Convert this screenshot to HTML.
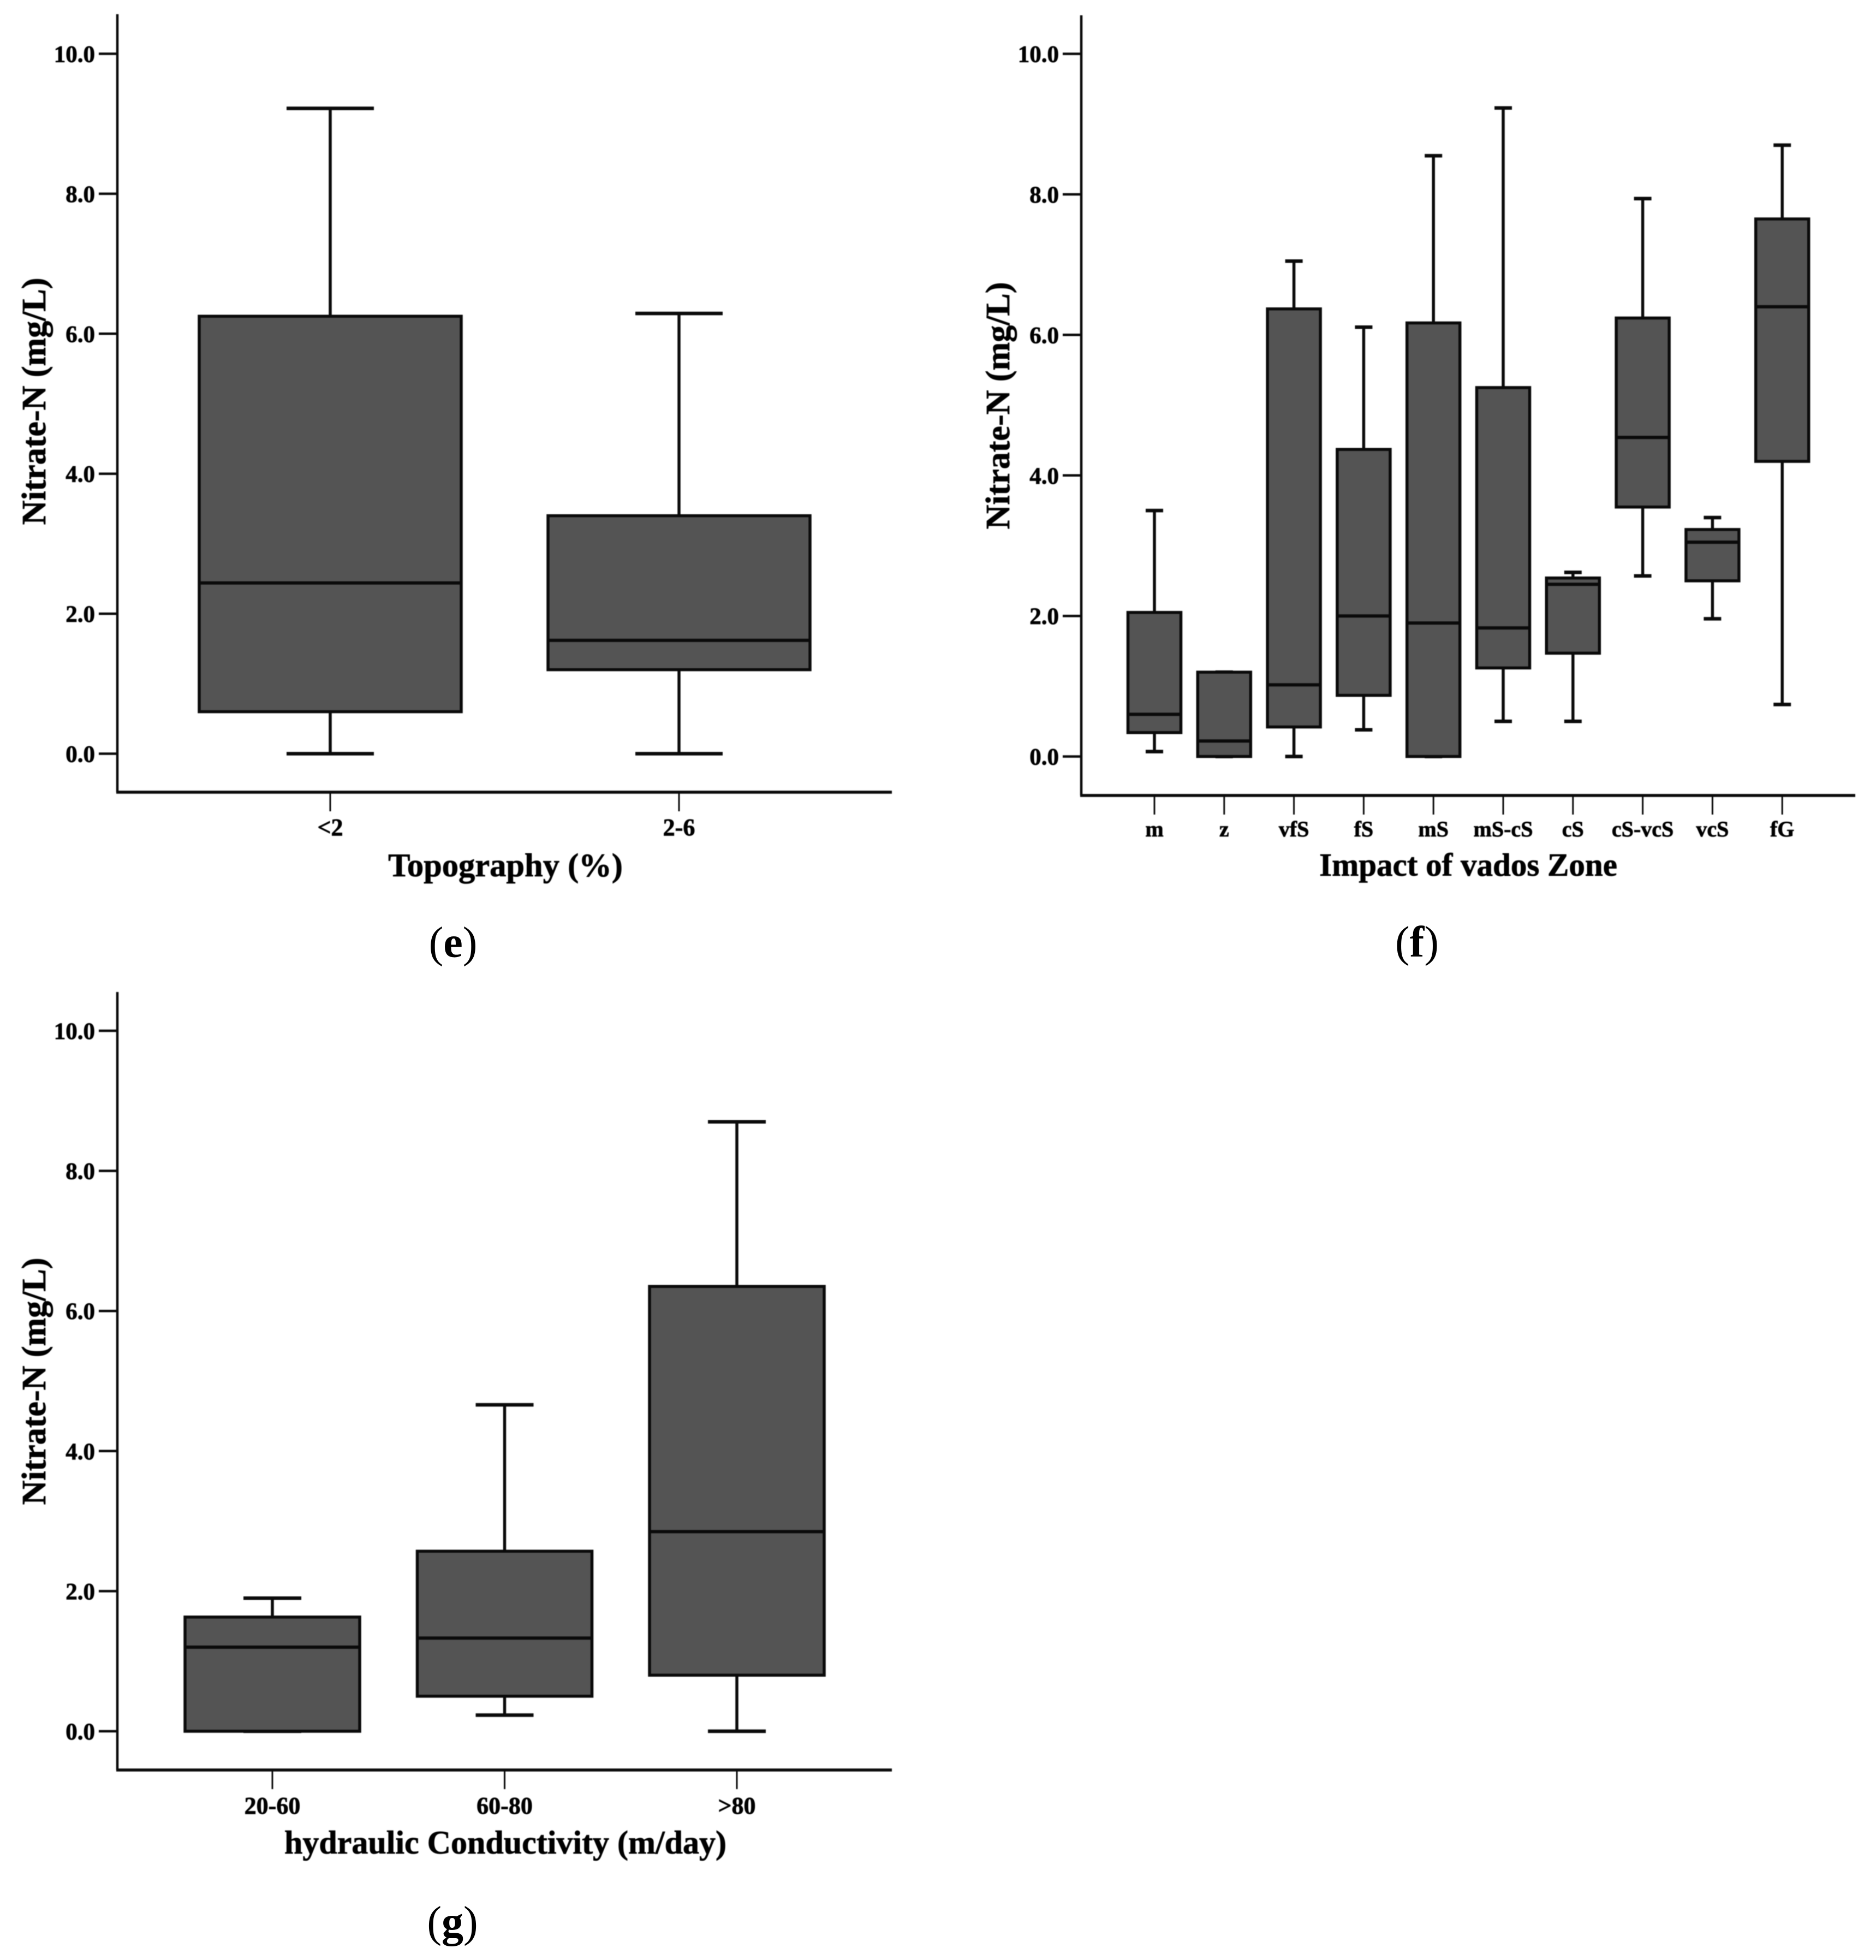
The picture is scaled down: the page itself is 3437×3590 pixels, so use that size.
<!DOCTYPE html>
<html>
<head>
<meta charset="utf-8">
<title>Nitrate-N box plots</title>
<style>
html,body{margin:0;padding:0;background:#fff;}
svg{display:block;}
text{font-family:"Liberation Serif",serif;fill:#000;}
.tick{font-weight:bold;font-size:43px;stroke:#000;stroke-width:.8px;}
.title{font-weight:bold;font-size:60px;stroke:#000;stroke-width:.8px;}
.cap{font-size:80px;}
</style>
</head>
<body>
<svg id="root" xmlns="http://www.w3.org/2000/svg" width="3437" height="3590" viewBox="0 0 3437 3590">
<rect x="0" y="0" width="3437" height="3590" fill="#ffffff"/>
<g id="plots" style="filter:blur(.8px)"></g>
<text class="cap" x="830" y="1753" text-anchor="middle">(<tspan font-weight="bold">e</tspan>)</text>
<text class="cap" x="2596" y="1752" text-anchor="middle">(<tspan font-weight="bold">f</tspan>)</text>
<text class="cap" x="829" y="3547" text-anchor="middle">(<tspan font-weight="bold">g</tspan>)</text>
</svg>
<script>
var yTickValues = [0, 2, 4, 6, 8, 10];
var yTickLabels = ["0.0", "2.0", "4.0", "6.0", "8.0", "10.0"];

var topoCategories = ["<2", "2-6"];
var topoMin = [0, 0];
var topoQ1 = [0.6, 1.2];
var topoMedian = [2.44, 1.62];
var topoQ3 = [6.25, 3.4];
var topoMax = [9.22, 6.29];

var vadoseCategories = ["m", "z", "vfS", "fS", "mS", "mS-cS", "cS", "cS-vcS", "vcS", "fG"];
var vadoseMin = [0.07, 0, 0, 0.38, 0, 0.5, 0.5, 2.57, 1.96, 0.74];
var vadoseQ1 = [0.34, 0, 0.42, 0.87, 0, 1.26, 1.47, 3.55, 2.5, 4.2];
var vadoseMedian = [0.6, 0.22, 1.02, 2.0, 1.9, 1.83, 2.45, 4.54, 3.05, 6.4];
var vadoseQ3 = [2.05, 1.2, 6.37, 4.37, 6.17, 5.25, 2.54, 6.24, 3.23, 7.65];
var vadoseMax = [3.5, 1.2, 7.05, 6.11, 8.55, 9.23, 2.62, 7.94, 3.4, 8.7];

var condCategories = ["20-60", "60-80", ">80"];
var condMin = [0, 0.23, 0];
var condQ1 = [0, 0.5, 0.8];
var condMedian = [1.2, 1.33, 2.85];
var condQ3 = [1.63, 2.57, 6.35];
var condMax = [1.9, 4.66, 8.7];

var SVGNS = "http://www.w3.org/2000/svg";
var plots = document.getElementById("plots");

function addLine(parent, name, x1, y1, x2, y2, width) {
  var el = document.createElementNS(SVGNS, "line");
  
  
  el.setAttribute("x1", x1);
  el.setAttribute("y1", y1);
  el.setAttribute("x2", x2);
  el.setAttribute("y2", y2);
  el.setAttribute("stroke", "#0a0a0a");
  el.setAttribute("stroke-width", width);
  parent.appendChild(el);
  return el;
}

function addRect(parent, name, x, y, w, h) {
  var el = document.createElementNS(SVGNS, "rect");
  
  
  el.setAttribute("x", x);
  el.setAttribute("y", y);
  el.setAttribute("width", w);
  el.setAttribute("height", h);
  el.setAttribute("fill", "#545454");
  el.setAttribute("stroke", "#0a0a0a");
  el.setAttribute("stroke-width", 5.5);
  parent.appendChild(el);
  return el;
}

function addText(parent, name, cls, x, y, anchor, content, transform, size) {
  var el = document.createElementNS(SVGNS, "text");
  
  
  el.setAttribute("class", cls);
  el.setAttribute("x", x);
  el.setAttribute("y", y);
  el.setAttribute("text-anchor", anchor);
  if (transform) el.setAttribute("transform", transform);
  if (size) el.style.fontSize = size + "px";
  el.textContent = content;
  parent.appendChild(el);
  return el;
}

function drawPanel(cfg) {
  var g = document.createElementNS(SVGNS, "g");
  
  
  plots.appendChild(g);

  function yScale(v) { return cfg.y0 - cfg.unit * v; }
  function xScale(i) { return cfg.firstX + cfg.stepX * i; }

  addLine(g, "y-axis", cfg.axisX, cfg.axisTop, cfg.axisX, cfg.axisBottom, 4.5);
  addLine(g, "x-axis", cfg.axisX - 2, cfg.axisBottom, cfg.axisRight, cfg.axisBottom, 5.5);

  yTickValues.forEach(function (v, i) {
    var y = yScale(v);
    addLine(g, "y-tick", cfg.axisX - 34, y, cfg.axisX, y, 4.5);
    addText(g, "y-tick-label", "tick", cfg.axisX - 41, y + 15, "end", yTickLabels[i]);
  });

  cfg.categories.forEach(function (c, i) {
    var x = xScale(i);
    addLine(g, "x-tick", x, cfg.axisBottom, x, cfg.axisBottom + 35, 3);
    addText(g, "x-tick-label", "tick", x, cfg.axisBottom + cfg.labelGap, "middle", c, null, cfg.catFont);

    addLine(g, "whisker-upper", x, yScale(cfg.q3[i]), x, yScale(cfg.max[i]), 5.5);
    addLine(g, "whisker-lower", x, yScale(cfg.q1[i]), x, yScale(cfg.min[i]), 5.5);
    addLine(g, "whisker-cap-upper", x - cfg.capHalf, yScale(cfg.max[i]), x + cfg.capHalf, yScale(cfg.max[i]), 6.5);
    addLine(g, "whisker-cap-lower", x - cfg.capHalf, yScale(cfg.min[i]), x + cfg.capHalf, yScale(cfg.min[i]), 6.5);
    addRect(g, "box", x - cfg.boxHalf, yScale(cfg.q3[i]), cfg.boxHalf * 2, yScale(cfg.q1[i]) - yScale(cfg.q3[i]));
    addLine(g, "median-line", x - cfg.boxHalf, yScale(cfg.median[i]), x + cfg.boxHalf, yScale(cfg.median[i]), 6);
  });

  var xt = addText(g, "x-axis-title", "title", cfg.xTitleX, cfg.xTitleY, "middle", cfg.xTitle);
  xt.style.fontSize = cfg.xTitleFont + "px";
  var yt = addText(g, "y-axis-title", "title", 0, 0, "middle", "Nitrate-N (mg/L)",
    "translate(" + cfg.yTitleX + "," + cfg.yTitleY + ") rotate(-90)");
  yt.style.fontSize = "62px";
}

drawPanel({
  name: "panel-topography", categories: topoCategories,
  min: topoMin, q1: topoQ1, median: topoMedian, q3: topoQ3, max: topoMax,
  y0: 1380.5, unit: 128.2, axisX: 215, axisTop: 26, axisBottom: 1451, axisRight: 1634,
  firstX: 605, stepX: 639, boxHalf: 240, capHalf: 80, labelGap: 79, catFont: 44,
  xTitle: "Topography (%)", xTitleFont: 60.5, xTitleX: 926, xTitleY: 1605, yTitleX: 83, yTitleY: 735
});

drawPanel({
  name: "panel-vadose-zone", categories: vadoseCategories,
  min: vadoseMin, q1: vadoseQ1, median: vadoseMedian, q3: vadoseQ3, max: vadoseMax,
  y0: 1385.6, unit: 128.7, axisX: 1981, axisTop: 28, axisBottom: 1457, axisRight: 3399,
  firstX: 2115, stepX: 127.8, boxHalf: 48.5, capHalf: 16, labelGap: 75, catFont: 40,
  xTitle: "Impact of vados Zone", xTitleFont: 59, xTitleX: 2690, xTitleY: 1604, yTitleX: 1849, yTitleY: 743
});

drawPanel({
  name: "panel-hydraulic-conductivity", categories: condCategories,
  min: condMin, q1: condQ1, median: condMedian, q3: condQ3, max: condMax,
  y0: 3171, unit: 128.3, axisX: 215, axisTop: 1817, axisBottom: 3242, axisRight: 1634,
  firstX: 499, stepX: 425.5, boxHalf: 160, capHalf: 53, labelGap: 80, catFont: 44,
  xTitle: "hydraulic Conductivity (m/day)", xTitleFont: 60, xTitleX: 926, xTitleY: 3395, yTitleX: 83, yTitleY: 2530
});
</script>
</body>
</html>
